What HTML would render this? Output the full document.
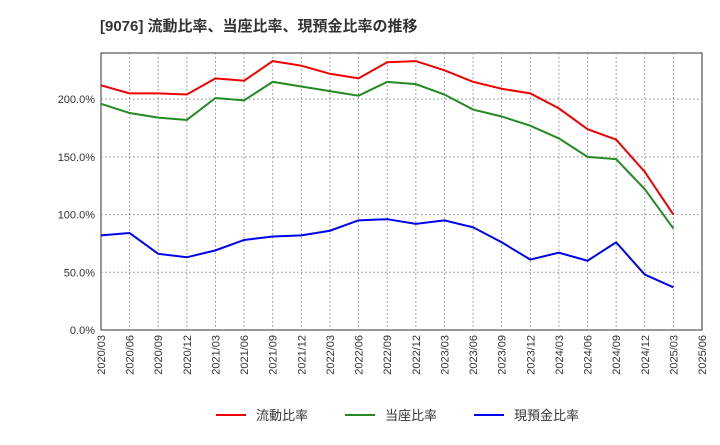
<!DOCTYPE html>
<html><head><meta charset="utf-8"><style>
body{margin:0;background:#fff;font-family:"Liberation Sans","Noto Sans CJK JP",sans-serif;}
svg text{font-family:"Liberation Sans","Noto Sans CJK JP",sans-serif;}
</style></head><body>
<svg id="chart" width="720" height="440" xmlns="http://www.w3.org/2000/svg">
<text x="100" y="31" font-size="15" font-weight="bold" fill="#333">[9076]  流動比率、当座比率、現預金比率の推移</text>
<rect x="101" y="53" width="601" height="277" fill="none" stroke="#333" stroke-width="1"/>
<g id="grid"></g><g id="axes"></g><g id="series"></g><g id="legend"></g>
</svg>
<script>
const categories=["2020/03","2020/06","2020/09","2020/12","2021/03","2021/06","2021/09","2021/12","2022/03","2022/06","2022/09","2022/12","2023/03","2023/06","2023/09","2023/12","2024/03","2024/06","2024/09","2024/12","2025/03","2025/06"];
const currentRatio=[212,205,205,204,218,216,233,229,222,218,232,233,225,215,209,205,192,174,165,137,100];
const quickRatio=[196,188,184,182,201,199,215,211,207,203,215,213,204,191,185,177,166,150,148,122,88];
const cashRatio=[82,84,66,63,69,78,81,82,86,95,96,92,95,89,76,61,67,60,76,48,37];
const yTicks=[0,50,100,150,200];
const yTickLabels=["0.0%","50.0%","100.0%","150.0%","200.0%"];
const seriesNames=["流動比率","当座比率","現預金比率"];
const NS="http://www.w3.org/2000/svg";
const X0=101,X1=702,Y0=330,Y1=53,YMAX=240;
const xs=i=>X0+(X1-X0)*i/(categories.length-1);
const ys=v=>Y0-(Y0-Y1)*v/YMAX;
function mk(t,a,p){const e=document.createElementNS(NS,t);for(const k in a)e.setAttribute(k,a[k]);p.appendChild(e);return e;}
const grid=document.getElementById('grid'),axes=document.getElementById('axes'),ser=document.getElementById('series'),leg=document.getElementById('legend');
categories.forEach((c,i)=>{
  const x=xs(i);
  if(i>0&&i<categories.length-1){const l=mk('line',{x1:x,x2:x,y1:Y1,y2:Y0,stroke:'#888','stroke-dasharray':'1.5,2.5'},grid);
  
  }
  const t=mk('text',{x:0,y:0,'font-size':11,fill:'#333','text-anchor':'end',transform:`translate(${x+4},${Y0+5}) rotate(-90)`},axes);
  t.textContent=c;
  
  
});
yTicks.forEach((v,i)=>{
  const y=ys(v);
  if(v>0){const l=mk('line',{x1:X0,x2:X1,y1:y,y2:y,stroke:'#888','stroke-dasharray':'1.5,2.5'},grid);
  
  }
  const t=mk('text',{x:X0-6,y:y+4,'font-size':11,fill:'#333','text-anchor':'end'},axes);
  t.textContent=yTickLabels[i];
  
  
});
const colors=["#f00000","#228b22","#0000f0"];
[currentRatio,quickRatio,cashRatio].forEach((d,k)=>{
  const p=mk('polyline',{points:d.map((v,i)=>xs(i)+','+ys(v)).join(' '),fill:'none',stroke:colors[k],'stroke-width':2},ser);
  
  
});
const lx=[216,345,474];
seriesNames.forEach((n,k)=>{
  const g=mk('g',{},leg);
  
  
  mk('line',{x1:lx[k],x2:lx[k]+30,y1:415,y2:415,stroke:colors[k],'stroke-width':2},g);
  const t=mk('text',{x:lx[k]+40,y:420,'font-size':13,fill:'#333'},g);
  t.textContent=n;
});
</script>
</body></html>
